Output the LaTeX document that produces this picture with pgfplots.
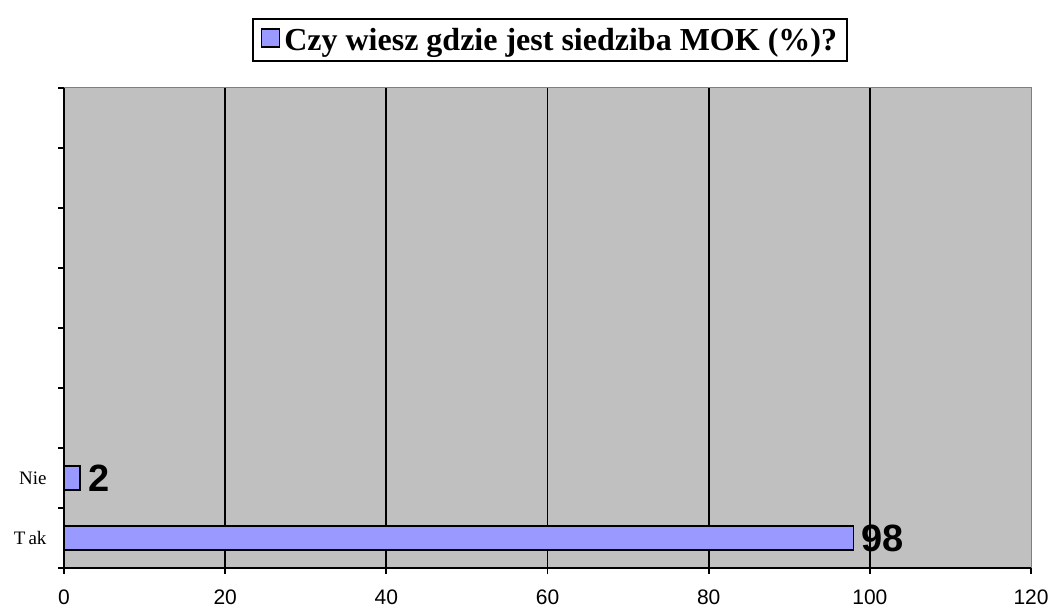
\documentclass[border=0pt]{standalone}
\usepackage{fontspec}
\setmainfont{Liberation Serif}
\newfontfamily\arial{Liberation Sans}
\usepackage{pgfplots}
\pgfplotsset{compat=1.18}
\definecolor{barc}{HTML}{9999FF}
\definecolor{bgc}{HTML}{C0C0C0}
\begin{document}
\begin{tikzpicture}
\begin{axis}[
  scale only axis, width=967pt, height=480pt,
  xbar, bar width=24pt,
  xmin=0, xmax=120, ymin=-0.5, ymax=7.5,
  clip=false,
  axis background/.style={fill=bgc},
  axis x line*=bottom, axis y line*=left,
  axis line style={line width=2pt, -},
  xtick={0,20,...,120},
  ytick={0,1}, yticklabels={T\,ak,Nie},
  ytick style={draw=none},
  xtick style={line width=1.8pt, black},
  tick align=outside, major tick length=6pt,
  extra x ticks={20,40,60,80,100}, extra x tick labels={},
  extra x tick style={grid=major, major grid style={black, line width=1.8pt}, major tick length=0pt},
  extra y ticks={-0.5,0.5,...,7.5}, extra y tick labels={},
  extra y tick style={ytick style={draw=black, line width=1.8pt}, major tick length=6pt},
  /pgf/number format/assume math mode=true,
  xticklabel style={font=\arial\fontsize{21}{21}\selectfont, yshift=-12pt},
  yticklabel style={font=\fontsize{19}{19}\selectfont, xshift=-8pt},
  nodes near coords,
  nodes near coords style={font=\arial\bfseries\fontsize{38}{38}\selectfont, anchor=west, xshift=4pt},
  legend style={at={(0.5026,1.1)}, anchor=center, draw=black, line width=2pt,
    font=\bfseries\fontsize{32}{34}\selectfont, inner xsep=8pt, inner ysep=7pt},
  legend image code/.code={\draw[black, line width=1.3pt, fill=barc] (0pt,-7pt) rectangle (18pt,11pt);},
]
\addplot[fill=barc, draw=black, line width=1.5pt] coordinates {(98,0) (2,1)};
\addlegendentry{\hspace{2pt}Czy wiesz gdzie jest siedziba MOK (\%)?}
\draw[gray, line width=1pt] (rel axis cs:0,1) -- (rel axis cs:1,1) -- (rel axis cs:1,0);
\path (rel axis cs:-0.0662,-0.0979) rectangle (rel axis cs:1.0248,1.1833);
\end{axis}
\end{tikzpicture}
\end{document}
